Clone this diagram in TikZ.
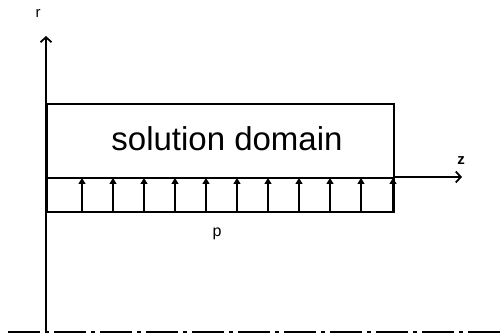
\documentclass[tikz,border=0pt]{standalone}
\usepackage{fontspec}
\setmainfont{Liberation Sans}
\usetikzlibrary{arrows.meta}
\tikzset{
  axis/.style={line width=1.8pt,-{Straight Barb[length=5pt,width=11pt,line width=1.8pt]}},
  wall/.style={draw,line width=1.8pt,minimum width=347pt,inner sep=0pt,anchor=north west},
  load/.style={line width=1.4pt,-{Triangle[length=6pt,width=7pt]}},
  symm/.style={line width=2pt,dash pattern=on 32pt off 5pt on 4pt off 5pt}
}
\begin{document}
\begin{tikzpicture}[x=1pt,y=-1pt]
  \useasboundingbox (0,0) rectangle (504,334);
  % symmetry axis and the r axis
  \draw[symm] (8,332) -- (504,332);
  \coordinate (rtop) at (46,36);
  \coordinate (rbot) at (46,332);
  \draw[axis] (rbot) -- (rtop);
  \node (r) at (38,13) {\fontsize{15}{17}\selectfont r};
  % domain and loaded strip
  \node[wall,minimum height=74pt] (dom) at (46,103) {};
  \node[wall,minimum height=34pt] (strip) at (46,177) {};
  \node (txt) at (227,139) {\fontsize{33}{38}\selectfont solution domain};
  \coordinate (zend) at (462,177);
  \draw[axis] (strip.north east) -- (zend);
  \node (z) at (461,161) {\fontsize{15}{17}\selectfont\bfseries z};
  % pressure arrows
  \foreach \z in {82,113,...,361,393}
    \draw[load] (\z,211) -- (\z,178);
  \node (p) at (217,234) {\fontsize{16}{18}\selectfont p};
\end{tikzpicture}
\end{document}
